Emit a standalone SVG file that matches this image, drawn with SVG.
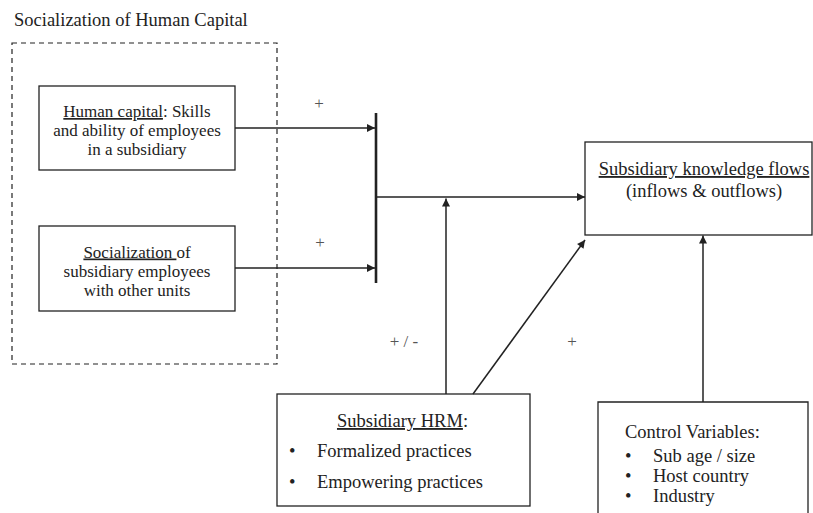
<svg xmlns="http://www.w3.org/2000/svg" width="813" height="513" viewBox="0 0 813 513" font-family="Liberation Serif, Times New Roman, serif">
<style>
text{fill:#222}
.t{font-size:18.5px}
.s{font-size:17px}
.lbl{font-size:17px;fill:#555}
.box{fill:#fff;stroke:#222;stroke-width:1.3}
.ln{stroke:#222;stroke-width:1.5;fill:none}
.u{text-decoration:underline}
</style>
<defs>
<marker id="ah" viewBox="0 0 10 10" refX="10" refY="5" markerWidth="10" markerHeight="8" markerUnits="userSpaceOnUse" orient="auto">
<path d="M0,0 L10,5 L0,10 z" fill="#222"/>
</marker>
</defs>
<rect width="813" height="513" fill="#fff"/>
<g id="group-socialization">
<text class="t" x="14" y="26">Socialization of Human Capital</text>
<rect x="12" y="43" width="265" height="321" fill="none" stroke="#222" stroke-width="1.2" stroke-dasharray="5,4"/>
</g>
<g id="node-human-capital">
<rect class="box" x="39" y="86" width="196" height="84"/>
<text class="s" text-anchor="middle" x="137" y="117"><tspan class="u">Human capital</tspan>: Skills</text>
<text class="s" text-anchor="middle" x="137" y="136">and ability of employees</text>
<text class="s" text-anchor="middle" x="137" y="155">in a subsidiary</text>
</g>
<g id="node-socialization">
<rect class="box" x="39" y="226" width="196" height="85"/>
<text class="s" text-anchor="middle" x="137" y="257.5"><tspan class="u">Socialization </tspan>of</text>
<text class="s" text-anchor="middle" x="137" y="276.5">subsidiary employees</text>
<text class="s" text-anchor="middle" x="137" y="295.5">with other units</text>
</g>
<g id="node-knowledge-flows">
<rect class="box" x="585" y="142" width="227" height="93"/>
<text class="t" text-anchor="middle" x="704" y="175"><tspan class="u">Subsidiary knowledge flows</tspan></text>
<text class="t" text-anchor="middle" x="704" y="196.5">(inflows &amp; outflows)</text>
</g>
<g id="node-hrm">
<rect class="box" x="277" y="394" width="253" height="112"/>
<text class="t" text-anchor="middle" x="402.5" y="427"><tspan class="u">Subsidiary HRM</tspan>:</text>
<text class="t" x="289" y="457">•</text>
<text class="t" x="317" y="457">Formalized practices</text>
<text class="t" x="289" y="488">•</text>
<text class="t" x="317" y="488">Empowering practices</text>
</g>
<g id="node-control">
<path class="box" d="M598,520 L598,402 L808,402 L808,520"/>
<text class="t" x="625" y="438">Control Variables:</text>
<text class="t" x="625" y="462">•</text>
<text class="t" x="653" y="462">Sub age / size</text>
<text class="t" x="625" y="482">•</text>
<text class="t" x="653" y="482">Host country</text>
<text class="t" x="625" y="502">•</text>
<text class="t" x="653" y="502">Industry</text>
</g>
<g id="connectors">
<line x1="376" y1="113" x2="376" y2="283" stroke="#222" stroke-width="2.6"/>
<line class="ln" x1="235" y1="128" x2="375" y2="128" marker-end="url(#ah)"/>
<line class="ln" x1="235" y1="268" x2="375" y2="268" marker-end="url(#ah)"/>
<line class="ln" x1="377" y1="197" x2="585" y2="197" marker-end="url(#ah)"/>
<line class="ln" x1="446" y1="394" x2="446" y2="198.5" marker-end="url(#ah)"/>
<line class="ln" x1="473" y1="394" x2="585" y2="240" marker-end="url(#ah)"/>
<line class="ln" x1="703" y1="402" x2="703" y2="235.5" marker-end="url(#ah)"/>
<text class="lbl" text-anchor="middle" x="319" y="109">+</text>
<text class="lbl" text-anchor="middle" x="320" y="248">+</text>
<text class="lbl" text-anchor="middle" x="404" y="347">+ / -</text>
<text class="lbl" text-anchor="middle" x="572" y="347">+</text>
</g>
</svg>
